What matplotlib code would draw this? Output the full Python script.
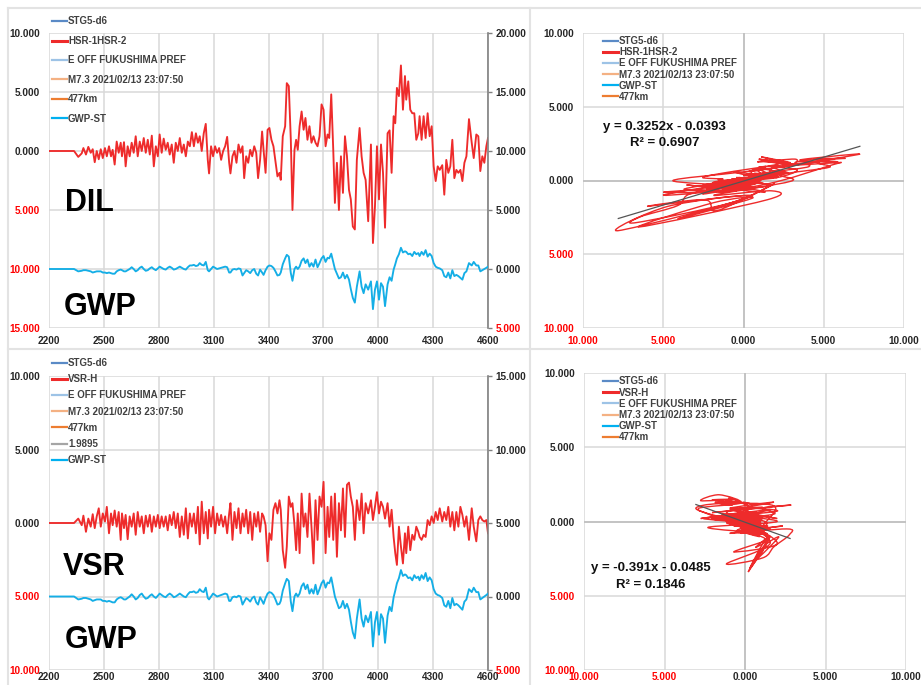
import matplotlib
matplotlib.use('Agg')
import matplotlib.pyplot as plt
from matplotlib.lines import Line2D
from matplotlib.path import Path
from matplotlib.patches import PathPatch
import numpy as np

plt.rcParams['font.family'] = ['Liberation Sans', 'DejaVu Sans']
plt.rcParams['font.weight'] = 'bold'

# ---------------- data ----------------
t = [
    2200, 2337, 2360, 2379, 2388, 2402, 2415, 2428, 2439, 2450,
    2461, 2472, 2483, 2494, 2506, 2516, 2528, 2539, 2548, 2559,
    2570, 2581, 2592, 2599, 2610, 2619, 2630, 2641, 2652, 2663,
    2674, 2685, 2696, 2707, 2718, 2729, 2740, 2751, 2762, 2773,
    2784, 2795, 2805, 2816, 2827, 2838, 2849, 2860, 2871, 2882,
    2893, 2904, 2915, 2926, 2937, 2948, 2959, 2970, 2981, 2992,
    3003, 3014, 3024, 3035, 3046, 3057, 3068, 3075, 3086, 3097,
    3108, 3119, 3130, 3141, 3152, 3163, 3174, 3185, 3192, 3203,
    3214, 3225, 3236, 3247, 3258, 3267, 3278, 3289, 3300, 3311,
    3322, 3333, 3343, 3354, 3365, 3373, 3384, 3395, 3405, 3416,
    3427, 3438, 3449, 3460, 3467, 3478, 3491, 3500, 3511, 3522,
    3531, 3542, 3551, 3560, 3570, 3581, 3592, 3602, 3613, 3624,
    3635, 3646, 3657, 3668, 3679, 3690, 3701, 3712, 3723, 3732,
    3743, 3754, 3763, 3774, 3785, 3796, 3807, 3818, 3829, 3840,
    3850, 3861, 3872, 3883, 3898, 3909, 3920, 3931, 3945, 3960,
    3971, 3982, 3993, 4004, 4015, 4026, 4037, 4051, 4062, 4073,
    4084, 4093, 4102, 4113, 4124, 4135, 4146, 4153, 4164, 4175,
    4186, 4197, 4208, 4219, 4226, 4237, 4248, 4259, 4270, 4281,
    4292, 4303, 4314, 4325, 4336, 4350, 4361, 4372, 4383, 4394,
    4405, 4416, 4427, 4438, 4449, 4460, 4471, 4482, 4496, 4511,
    4522, 4536, 4547, 4558, 4569, 4580, 4591, 4600]

# DIL  (HSR-1HSR-2)
hsr = [
    0.0, 0.0, -0.5, -0.2, 0.25, -0.3, 0.35, -0.15, 0.15, -0.95,
    0.0, -0.7, 0.15, -0.6, 0.25, -0.45, 0.4, -0.45, 0.1, -1.15,
    0.8, -0.15, 0.7, -0.45, 0.75, -1.3, 0.4, -0.45, 0.7, -0.15,
    1.25, -0.45, 0.8, 0.0, 1.1, -0.15, 0.95, -0.3, 1.3, -1.3,
    0.4, -0.45, 1.4, -0.15, 1.05, 0.1, 0.7, -0.3, 0.55, -1.0,
    0.7, 0.0, 1.1, -0.15, 0.55, -0.45, 0.8, 0.4, 1.6, 0.4,
    1.5, 0.7, 1.25, 0.0, 1.5, 2.3, -0.75, -1.9, 0.4, -0.45,
    0.4, -0.15, 0.25, -0.75, 0.0, 0.4, 1.2, -1.0, -1.9, -0.45,
    0.0, -1.0, 0.55, -0.15, 0.4, -2.3, -0.45, -1.0, 0.1, -0.45,
    0.4, -0.15, -2.3, -0.75, 1.65, 0.1, -1.85, 1.8, 1.95, 0.95,
    0.4, -0.9, -2.15, -1.85, -2.45, 1.25, 2.1, 5.75, 5.5, 0.95,
    -5.0, 0.1, 0.95, 0.1, 2.1, 3.35, 1.8, 2.8, 0.95, 2.1,
    0.7, 1.25, 0.7, 0.4, 1.25, 3.95, 3.5, 0.4, 1.4, 1.1,
    4.8, 0.1, -4.4, -1.0, -5.0, -0.45, -3.55, 1.25, -0.45, -3.3,
    -4.1, -6.4, -6.65, -0.75, 1.95, -0.45, -1.85, -2.45, -5.95, 0.55,
    -7.8, -4.7, 0.4, -4.1, 0.55, -1.85, -6.5, 1.5, 1.75, -1.85,
    2.95, 2.35, 5.35, 4.65, 7.25, 3.5, 6.35, 4.35, 5.9, 3.5,
    3.2, 3.2, 0.95, 1.5, 2.95, 0.95, 2.95, 1.1, 3.2, 1.25,
    2.1, -1.3, -2.55, -1.3, -1.6, -1.2, -3.7, -0.75, -1.85, -1.3,
    0.95, -2.3, -1.6, -1.85, -1.6, -2.55, -1.0, -0.45, 2.7, 0.7,
    -0.6, 1.4, 1.25, -1.7, -0.45, -1.0, 0.4, 1.1]

# GWP-ST
gwp = [
    0.0, 0.0, -0.2, -0.15, -0.1, -0.1, -0.15, -0.2, -0.3, -0.25,
    -0.2, -0.2, -0.2, -0.3, -0.3, -0.35, -0.3, -0.35, -0.4, -0.4,
    -0.2, -0.1, -0.05, -0.1, -0.2, -0.2, -0.1, 0.0, 0.15, 0.0,
    -0.2, -0.1, 0.1, 0.2, 0.0, -0.15, -0.1, 0.05, 0.15, 0.0,
    -0.1, 0.05, 0.2, 0.1, 0.0, -0.05, 0.1, 0.2, 0.1, -0.05,
    0.0, 0.1, 0.2, 0.1, 0.0, -0.05, 0.15, 0.3, 0.3, 0.35,
    0.25, 0.3, 0.5, 0.35, 0.3, 0.6, -0.1, -0.2, 0.0, 0.2,
    0.1, 0.0, 0.05, 0.1, 0.15, 0.2, 0.15, -0.3, -0.3, -0.05,
    0.0, -0.05, 0.05, 0.0, -0.55, -0.35, -0.1, -0.2, -0.35, -0.1,
    0.0, -0.4, -0.55, -0.05, -0.3, -0.5, -0.1, 0.2, 0.3, 0.25,
    0.1, -0.2, -0.55, -0.5, -0.3, 0.4, 0.9, 1.2, 1.05, -0.35,
    -1.0, 0.0, 0.2, 0.0, 0.2, 0.7, 0.9, 0.5, 0.8, 0.2,
    0.5, 0.2, 0.8, 0.15, 0.5, 0.9, 1.1, 0.6, 0.95, 0.9,
    1.3, 0.6, 0.0, -0.4, -0.8, -0.7, -0.3, -0.8, -0.5, -0.9,
    -1.7, -2.45, -2.85, -1.5, -0.2, -1.5, -2.05, -1.3, -1.75, -1.05,
    -3.4, -1.75, -1.05, -2.6, -1.2, -1.5, -3.15, -1.3, -0.7, -1.0,
    -0.05, 0.4, 0.9, 1.25, 1.8, 1.4, 1.5, 1.45, 1.25, 1.3,
    1.1, 1.45, 1.25, 1.35, 1.1, 1.45, 1.2, 1.6, 1.05, 1.3,
    1.1, 0.5, 0.2, 0.1, 0.05, -0.1, -0.6, -0.7, -0.3, -0.8,
    -0.1, -0.6, -0.5, -0.6, -0.75, -0.9, -0.35, -0.2, 0.5, 0.3,
    0.6, 0.3, 0.3, -0.2, -0.1, 0.0, 0.1, 0.2]

# VSR-H
vsr = [
    0.0, 0.0, 0.3, -0.15, 0.5, -0.6, 0.3, -0.25, 0.6, -0.35,
    0.45, 1.0, -0.25, 0.65, 0.1, 1.1, -0.7, 0.65, -0.15, 0.85,
    -0.25, 0.75, -1.15, 0.65, -0.35, 0.55, -1.1, 0.45, -0.25, 0.65,
    -0.8, 0.75, -0.25, 0.45, -0.7, 0.5, -0.25, 0.55, -0.6, 0.45,
    -0.25, 0.55, -0.35, 0.45, -0.25, 0.45, -0.5, 0.55, -0.15, 0.75,
    -0.35, 0.65, -0.95, 0.45, -0.8, 1.0, -1.05, 0.65, -0.25, 0.65,
    -0.7, 1.1, -1.45, 1.45, -0.7, 0.75, -1.05, 0.9, -0.25, 1.1,
    -0.7, 0.65, -0.15, 0.55, -0.25, 0.45, -0.7, 0.65, 1.35, -1.15,
    0.75, -0.35, 1.0, -0.7, 0.65, -0.25, 0.9, -0.7, 0.75, -1.15,
    0.65, -0.25, 0.75, -0.6, 0.65, 0.45, -0.15, -2.6, -0.7, -1.15,
    0.9, 1.35, 0.65, 1.55, 0.9, -1.85, -3.05, -1.6, 1.8, 1.1,
    1.35, -0.15, -1.85, 0.65, -2.05, 2.0, -0.25, 0.65, -0.95, 2.0,
    -0.25, -2.75, 1.55, -1.15, 1.8, 1.1, 2.8, -2.05, 1.1, -0.95,
    1.8, -1.15, 2.0, -2.3, 1.35, -0.5, 2.35, -0.95, 2.6, 2.75,
    1.8, 1.1, -1.15, 1.55, 0.2, 2.0, -0.7, 1.35, 0.65, 1.55,
    0.2, 1.1, 2.1, 0.65, 1.45, 1.1, 0.3, 1.35, -0.25, 0.9,
    -0.95, -2.05, -2.85, -0.25, -1.6, -2.75, -0.7, -2.05, -0.25, -1.85,
    -0.8, -1.15, -0.25, -0.6, -0.95, -1.15, -0.8, -0.95, 0.2, -0.15,
    0.45, 0.0, 0.75, 0.2, 1.0, 0.1, 0.75, 0.2, 1.1, -0.25,
    0.75, -0.5, 0.75, -0.25, 1.1, 0.55, -0.25, 0.45, -1.15, 1.0,
    -0.25, -1.25, 0.2, 0.45, 0.2, 0.1, 0.2, -0.7]

assert len(t) == len(hsr) == len(gwp) == len(vsr)

x_ticks = [2200, 2500, 2800, 3100, 3400, 3700, 4000, 4300, 4600]
sc_ticks = [-10, -5, 0, 5, 10]

fit_top = (0.3252, -0.0393)
fit_bot = (-0.391, -0.0485)
eq_top = ["y = 0.3252x - 0.0393", "R\u00b2 = 0.6907"]
eq_bot = ["y = -0.391x - 0.0485", "R\u00b2 = 0.1846"]

legend_top_left = ["STG5-d6", "HSR-1HSR-2", "E OFF FUKUSHIMA PREF",
                   "M7.3 2021/02/13 23:07:50", "477km", "GWP-ST"]
legend_bot_left = ["STG5-d6", "VSR-H", "E OFF FUKUSHIMA PREF",
                   "M7.3 2021/02/13 23:07:50", "477km", "1.9895", "GWP-ST"]
legend_top_right = ["STG5-d6", "HSR-1HSR-2", "E OFF FUKUSHIMA PREF",
                    "M7.3 2021/02/13 23:07:50", "GWP-ST", "477km"]
legend_bot_right = ["STG5-d6", "VSR-H", "E OFF FUKUSHIMA PREF",
                    "M7.3 2021/02/13 23:07:50", "GWP-ST", "477km"]

# ---------------- styling ----------------
RED = '#EE2B2B'
BLUE = '#14AEE6'
GRID = '#D9D9D9'
POS = '#262626'
NEG = '#FF0000'
LEGTXT = '#404040'
series_colors = {
    "STG5-d6": '#5A8AC6', "HSR-1HSR-2": RED, "VSR-H": RED,
    "E OFF FUKUSHIMA PREF": '#9DC3E6', "M7.3 2021/02/13 23:07:50": '#F4B183',
    "477km": '#ED7D31', "1.9895": '#A5A5A5', "GWP-ST": '#00B0F0'}

W, H = 921, 685
fig = plt.figure(figsize=(W / 100, H / 100), dpi=100)
fig.patch.set_facecolor('white')


def rect(l, t_, r, b):
    return [l / W, 1 - b / H, (r - l) / W, (b - t_) / H]


def fx(x):
    return x / W


def fy(y):
    return 1 - y / H


TS = 7.2


def label_ticks(ax, which, vals):
    labs = [f"{abs(v):.3f}" for v in vals]
    if which == 'y':
        ax.set_yticks(vals)
        ax.set_yticklabels(labs)
        tl = ax.get_yticklabels()
    else:
        ax.set_xticks(vals)
        ax.set_xticklabels(labs)
        tl = ax.get_xticklabels()
    for lab, v in zip(tl, vals):
        lab.set_color(NEG if v < 0 else POS)
        lab.set_fontweight('bold')
        lab.set_fontsize(TS)


def make_legend(ax, labels, x, y, spacing):
    handles = [Line2D([], [], color=series_colors[l],
                      lw=2.2 if l in ("HSR-1HSR-2", "VSR-H") else 1.6) for l in labels]
    lg = ax.legend(handles, labels, loc='upper left',
                   bbox_to_anchor=(fx(x), fy(y)), bbox_transform=fig.transFigure,
                   frameon=False, fontsize=7, handlelength=1.5, handletextpad=0.15,
                   labelspacing=spacing, borderaxespad=0, borderpad=0)
    for tx in lg.get_texts():
        tx.set_color(LEGTXT)
        tx.set_fontweight('bold')
    return lg


def smooth_path(xs, ys):
    """Smoothed line through the points (like a spreadsheet 'smoothed line')."""
    p = np.column_stack([xs, ys]).astype(float)
    n = len(p)
    verts = [p[0]]
    codes = [Path.MOVETO]
    for i in range(n - 1):
        p0 = p[i - 1] if i > 0 else p[i]
        p1 = p[i]
        p2 = p[i + 1]
        p3 = p[i + 2] if i + 2 < n else p[i + 1]
        c1 = p1 + (p2 - p0) / 6.0
        c2 = p2 - (p3 - p1) / 6.0
        verts += [c1, c2, p2]
        codes += [Path.CURVE4] * 3
    return Path(verts, codes)


def ts_panel(r, red_vals, ylim_l, ylim_r, legend_labels, leg_xy, spacing, xpad):
    ax = fig.add_axes(r)
    ax.set_xlim(2200, 4600)
    ax.set_ylim(*ylim_l)
    ax.set_xticks(x_ticks)
    ax.set_xticklabels([str(v) for v in x_ticks])
    for lab in ax.get_xticklabels():
        lab.set_fontsize(TS)
        lab.set_color(POS)
    label_ticks(ax, 'y', list(range(ylim_l[0], ylim_l[1] + 1, 5)))
    ax.grid(True, color=GRID, lw=1.1)
    ax.set_axisbelow(True)
    for s in ax.spines.values():
        s.set_visible(False)
    ax.tick_params(axis='both', length=0)
    ax.tick_params(axis='y', pad=6.5)
    ax.tick_params(axis='x', pad=xpad)
    ax.plot(t, red_vals, color=RED, lw=1.35, zorder=3)

    ax2 = ax.twinx()
    ax2.set_ylim(*ylim_r)
    label_ticks(ax2, 'y', list(range(ylim_r[0], ylim_r[1] + 1, 5)))
    for k, s in ax2.spines.items():
        s.set_visible(k == 'right')
    ax2.spines['right'].set_color('#808080')
    ax2.spines['right'].set_linewidth(1.2)
    ax2.tick_params(axis='y', length=3, width=1, color='#808080', pad=2.5)
    ax2.plot(t, gwp, color=BLUE, lw=1.35, zorder=3)
    make_legend(ax2, legend_labels, leg_xy[0], leg_xy[1], spacing)
    return ax, ax2


def sc_panel(r, xs, ys, fit, eq, eq_xy, r2_xy, legend_labels, leg_xy, spacing, xpad):
    ax = fig.add_axes(r)
    ax.set_xlim(-10, 10)
    ax.set_ylim(-10, 10)
    label_ticks(ax, 'x', sc_ticks)
    label_ticks(ax, 'y', sc_ticks)
    ax.grid(True, color=GRID, lw=1.1)
    ax.set_axisbelow(True)
    for s in ax.spines.values():
        s.set_visible(False)
    ax.tick_params(axis='both', length=0)
    ax.tick_params(axis='y', pad=6.5)
    ax.tick_params(axis='x', pad=xpad)
    ax.axhline(0, color='#BFBFBF', lw=1.2, zorder=1)
    ax.axvline(0, color='#BFBFBF', lw=1.2, zorder=1)
    ax.add_patch(PathPatch(smooth_path(xs, ys), facecolor='none', edgecolor=RED,
                           lw=1.0, zorder=3))
    xf = np.array([min(xs), max(xs)])
    ax.plot(xf, fit[0] * xf + fit[1], color='#555555', lw=0.9, zorder=4)
    fig.text(fx(eq_xy[0]), fy(eq_xy[1]), eq[0], fontsize=9.5, fontweight='bold',
             color='#111111', ha='left', va='center')
    fig.text(fx(r2_xy[0]), fy(r2_xy[1]), eq[1], fontsize=9.5, fontweight='bold',
             color='#111111', ha='left', va='center')
    make_legend(ax, legend_labels, leg_xy[0], leg_xy[1], spacing)
    return ax


# ---------------- panels ----------------
ts_panel(rect(49, 33, 488, 328), hsr, (-15, 10), (-5, 20),
         legend_top_left, (52, 16.5), 0.97, 5.5)
ts_panel(rect(49, 376, 488, 670), vsr, (-10, 10), (-5, 15),
         legend_bot_left, (52, 358), 0.64, 1.5)
sc_panel(rect(583, 33, 904, 328), hsr, gwp, fit_top, eq_top,
         (603, 127), (630, 143), legend_top_right, (603, 36), 0.12, 5.5)
sc_panel(rect(584, 373, 906, 670), vsr, gwp, fit_bot, eq_bot,
         (591, 568), (616, 585), legend_bot_right, (603, 376.5), 0.12, 1.5)

# big panel titles
for txt, x, y in [("DIL", 65, 211), ("GWP", 64, 315), ("VSR", 63, 575), ("GWP", 65, 648)]:
    fig.text(fx(x), fy(y), txt, fontsize=22, fontweight='bold', color='black',
             ha='left', va='baseline')

# frame lines between the pasted charts
for (x0, y0, x1, y1) in [(530, 8, 530, 685), (8, 8, 921, 8), (8, 349, 921, 349), (8, 8, 8, 685)]:
    fig.add_artist(Line2D([fx(x0), fx(x1)], [fy(y0), fy(y1)], color='#E3E3E3', lw=1.5,
                          transform=fig.transFigure))

fig.savefig('out.png', dpi=100, facecolor='white')
